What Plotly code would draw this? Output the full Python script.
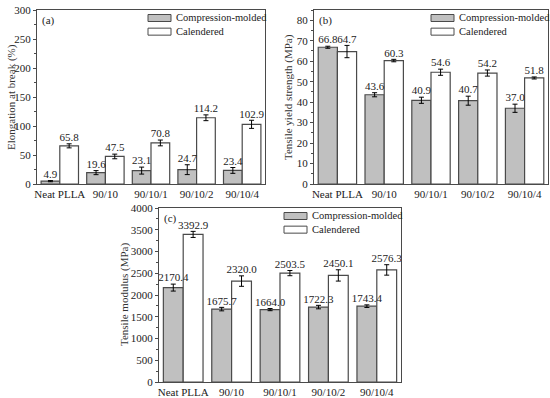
import plotly.graph_objects as go

categories = ["Neat PLLA", "90/10", "90/10/1", "90/10/2", "90/10/4"]
series_names = ["Compression-molded", "Calendered"]

# (a) Elongation at break (%)
elong_cm = [4.9, 19.6, 23.1, 24.7, 23.4]
elong_cm_err = [1.0, 3.5, 6.0, 8.5, 5.0]
elong_cal = [65.8, 47.5, 70.8, 114.2, 102.9]
elong_cal_err = [3.5, 4.0, 5.0, 5.0, 7.0]

# (b) Tensile yield strength (MPa)
strength_cm = [66.8, 43.6, 40.9, 40.7, 37.0]
strength_cm_err = [0.5, 1.0, 1.5, 2.2, 2.0]
strength_cal = [64.7, 60.3, 54.6, 54.2, 51.8]
strength_cal_err = [3.0, 0.6, 1.5, 1.5, 0.5]

# (c) Tensile modulus (MPa)
modulus_cm = [2170.4, 1675.7, 1664.0, 1722.3, 1743.4]
modulus_cm_err = [80, 40, 25, 40, 30]
modulus_cal = [3392.9, 2320.0, 2503.5, 2450.1, 2576.3]
modulus_cal_err = [70, 120, 60, 130, 120]

FONT = "Liberation Serif"
GRAY = "#c0c0c0"
EDGE = "#4a4a4a"
BARGAP = 0.18
W, H = 550, 398
LEG_FS = 10.5
LINE_H = LEG_FS * 1.3

fig = go.Figure()

panels = [
    dict(tag="(a)", ax="", cm=elong_cm, cme=elong_cm_err, cal=elong_cal, cale=elong_cal_err,
         title="Elongation at break (%)", yr=[0, 300], dt=50, minor=25,
         px=[37, 265], py=[10, 184], tx=26),
    dict(tag="(b)", ax="2", cm=strength_cm, cme=strength_cm_err, cal=strength_cal, cale=strength_cal_err,
         title="Tensile yield strength (MPa)", yr=[0, 85], dt=10, minor=5,
         px=[314, 548], py=[10, 184], tx=26),
    dict(tag="(c)", ax="3", cm=modulus_cm, cme=modulus_cm_err, cal=modulus_cal, cale=modulus_cal_err,
         title="Tensile modulus (MPa)", yr=[0, 4000], dt=500, minor=250,
         px=[159, 401], py=[208, 382], tx=35),
]

xs = list(range(len(categories)))
off = (1 - BARGAP) / 4


def fx(px):
    return px / W


def fy(py):
    return 1 - py / H


for p in panels:
    xa = "x" + p["ax"]
    ya = "y" + p["ax"]
    for name, vals, errs, color, sign in [
        (series_names[0], p["cm"], p["cme"], GRAY, -1),
        (series_names[1], p["cal"], p["cale"], "white", 1),
    ]:
        fig.add_trace(go.Bar(
            x=xs, y=vals, name=name, xaxis=xa, yaxis=ya, showlegend=False,
            marker=dict(color=color, line=dict(color=EDGE, width=1.2)),
            error_y=dict(type="data", array=errs, color="black", thickness=1, width=2.5),
        ))
        fig.add_trace(go.Scatter(
            x=[i + sign * off for i in xs],
            y=[v + e for v, e in zip(vals, errs)],
            text=["{:.1f}".format(v) for v in vals],
            mode="text", textposition="top center",
            textfont=dict(family=FONT, size=11, color="#222"),
            xaxis=xa, yaxis=ya, showlegend=False, hoverinfo="skip",
        ))
    axis_common = dict(showline=True, linecolor=EDGE, linewidth=1.2, mirror=True,
                       showgrid=False, zeroline=False, automargin=False,
                       tickfont=dict(family=FONT, size=11, color="#222"))
    fig.layout["xaxis" + p["ax"]] = dict(
        domain=[fx(p["px"][0]), fx(p["px"][1])], anchor=ya, range=[-0.5, 4.5],
        tickmode="array", tickvals=xs, ticktext=categories, ticks="", **axis_common)
    fig.layout["yaxis" + p["ax"]] = dict(
        domain=[fy(p["py"][1]), fy(p["py"][0])], anchor=xa, range=p["yr"], dtick=p["dt"],
        ticks="outside", ticklen=3, tickcolor=EDGE,
        minor=dict(dtick=p["minor"], ticks="outside", ticklen=2, tickcolor=EDGE),
        **axis_common)
    # y-axis title
    fig.add_annotation(text=p["title"], xref="paper", yref="paper", textangle=-90,
                       x=fx(p["px"][0] - p["tx"]), y=fy((p["py"][0] + p["py"][1]) / 2),
                       xanchor="center", yanchor="middle", showarrow=False,
                       font=dict(family=FONT, size=11, color="#333"))
    # panel tag
    fig.add_annotation(text=p["tag"], xref="paper", yref="paper",
                       x=fx(p["px"][0] + 3), y=fy(p["py"][0] + 2),
                       xanchor="left", yanchor="top", showarrow=False,
                       font=dict(family=FONT, size=11, color="#222"))
    # custom legend (swatches + labels), placed relative to panel's top-right
    right = p["px"][1]
    top = p["py"][0]
    for k, color in enumerate([GRAY, "white"]):
        cy = top + 8 + LINE_H * k
        fig.add_shape(type="rect", xref="paper", yref="paper",
                      x0=fx(right - 117), x1=fx(right - 94),
                      y0=fy(cy + 3.5), y1=fy(cy - 3.5),
                      fillcolor=color, line=dict(color=EDGE, width=1))
    fig.add_annotation(text="<br>".join(series_names), xref="paper", yref="paper",
                       x=fx(right - 90), y=fy(top + 8 + LINE_H / 2),
                       xanchor="left", yanchor="middle", align="left",
                       showarrow=False, borderpad=0,
                       font=dict(family=FONT, size=LEG_FS, color="#222"))

fig.update_layout(
    width=W, height=H, margin=dict(l=0, r=0, t=0, b=0),
    paper_bgcolor="white", plot_bgcolor="white",
    barmode="group", bargap=BARGAP, bargroupgap=0,
    font=dict(family=FONT),
)

fig.write_html("out.html", config={"displayModeBar": False},
               post_script="document.body.style.margin='0';")
